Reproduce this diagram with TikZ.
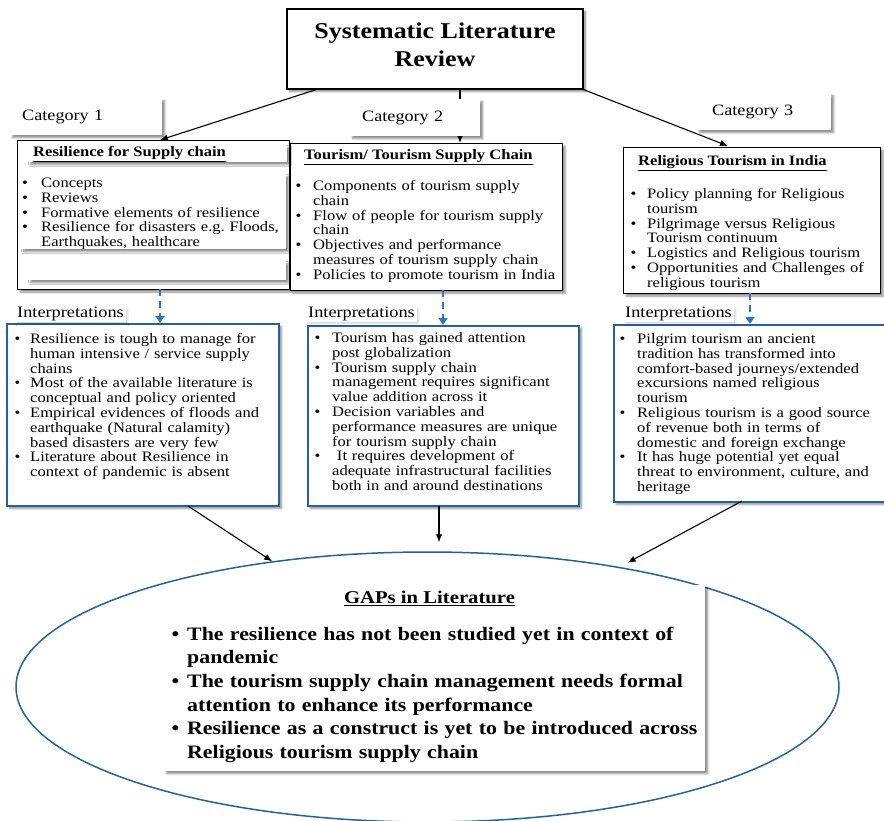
\documentclass[tikz,border=0pt]{standalone}
\usepackage{fontspec}
\setmainfont{Liberation Serif}[FakeStretch=1.15]
\usetikzlibrary{shapes.geometric,shadows.blur,arrows.meta,calc}

\definecolor{frameblue}{RGB}{37,96,160}
\definecolor{dashblue}{RGB}{46,117,198}

% hanging bullet item; the indent is set per list, \nl breaks inside an item
\newlength\bulletindent
\newcommand\bitem[1]{\par\hangindent=\bulletindent\hangafter=1\noindent\makebox[\bulletindent][l]{\textbullet}#1}
\newcommand\nl{\newline}

\tikzset{
  boxshadow/.style={blur shadow={shadow xshift=2.5pt, shadow yshift=-2.5pt, shadow blur radius=2pt, shadow blur steps=5, shadow opacity=45}},
  framebox/.style={draw=black, line width=1.1pt, fill=white, boxshadow, anchor=north west, inner sep=0pt},
  paperbox/.style={fill=white, boxshadow, anchor=north west, inner sep=0pt},
  catlabel/.style={fill=white, boxshadow, anchor=north west, inner xsep=12pt, inner ysep=0pt, align=left, font=\fontsize{15.8}{18}\selectfont},
  interplabel/.style={fill=white, blur shadow={shadow xshift=2pt, shadow yshift=-2pt, shadow blur steps=4, shadow opacity=15}, anchor=west, inner xsep=2pt, inner ysep=1pt, font=\fontsize{15.9}{18}\selectfont},
  interpbox/.style={draw=frameblue, line width=1.8pt, fill=white, boxshadow, anchor=north west, inner sep=0pt},
  listtext/.style 2 args={anchor=north west, inner sep=0pt, text width=#1, font=\fontsize{14.4}{14.8}\selectfont, execute at begin node={\raggedright\frenchspacing\setlength\bulletindent{#2}}},
  headtext/.style={anchor=west, inner sep=0pt, font=\bfseries\fontsize{14.4}{16}\selectfont},
  flow/.style={-{Latex[length=8pt,width=6.5pt]}, line width=1.1pt, black},
  dashflow/.style={-{Triangle[length=7pt,width=9pt]}, line width=2.4pt, dashblue, dash pattern=on 7pt off 5pt},
}

\begin{document}
\begin{tikzpicture}[x=1pt, y=-1pt]
\useasboundingbox (0,0) rectangle (884,820);

% ---------- root ----------
\node[framebox, anchor=center, line width=1.3pt, minimum width=296pt, minimum height=80pt] (title) at (435,49) {};
\node[align=center, inner sep=0pt, font=\bfseries\fontsize{22.6}{28}\selectfont] (titletext) at (435,44.5) {Systematic Literature\\Review};

% ---------- three category boxes ----------
\node[framebox, minimum width=272pt, minimum height=149pt] (res) at (17,140) {};
\node[framebox, minimum width=272pt, minimum height=147pt] (tour) at (290,143) {};
\node[framebox, minimum width=257pt, minimum height=146pt] (rel) at (623,147) {};

% arrows from the root to the categories
\coordinate (t1) at (318,89);
\coordinate (t2) at (460,89);
\coordinate (c1) at (160,140);
\coordinate (c2) at (460,143);
\coordinate (c3) at (728,146);
\draw[flow] (t1) -- (c1);
\draw[flow] (t2) -- (c2);
\draw[flow] (title.south east) -- (c3);

% category labels
\node[catlabel, minimum width=152pt, minimum height=37pt, text width=128pt] (cat1) at (10,98) {Category 1};
\node[catlabel, minimum width=130pt, minimum height=37pt, text width=106pt] (cat2) at (350,99) {Category 2};
\node[catlabel, inner xsep=15pt, minimum width=134pt, minimum height=37pt, text width=104pt] (cat3) at (697,93) {Category 3};

% resilience box contents
\node[paperbox, minimum width=259pt, minimum height=17pt] (reshead) at (28,145) {};
\node[paperbox, minimum width=265pt, minimum height=75pt] (reslistbg) at (21,174) {};
\node[paperbox, minimum width=258pt, minimum height=19pt] (resblank) at (28,261) {};
\node[headtext] (resheadtxt) at (33,154) {\underline{Resilience for Supply chain}};
\node[listtext={320pt}{19pt}] (reslist) at (22,172.5) {%
\bitem{Concepts}
\bitem{Reviews}
\bitem{Formative elements of resilience}
\bitem{Resilience for disasters e.g. Floods,\nl Earthquakes, healthcare}\par};

% tourism box contents
\node[headtext] (tourheadtxt) at (304,157) {\underline{Tourism/ Tourism Supply Chain}};
\node[listtext={320pt}{17.5pt}] (tourlist) at (295.5,175.5) {%
\bitem{Components of tourism supply\nl chain}
\bitem{Flow of people for tourism supply\nl chain}
\bitem{Objectives and performance\nl measures of tourism supply chain}
\bitem{Policies to promote tourism in India}\par};

% religious tourism box contents
\node[headtext] (relheadtxt) at (638,163) {\underline{Religious Tourism in India}};
\node[listtext={320pt}{16.5pt}] (rellist) at (630.5,183.5) {%
\bitem{Policy planning for Religious\nl tourism}
\bitem{Pilgrimage versus Religious\nl Tourism continuum}
\bitem{Logistics and Religious tourism}
\bitem{Opportunities and Challenges of\nl religious tourism}\par};

% ---------- interpretation boxes ----------
\node[interpbox, minimum width=272pt, minimum height=182pt] (int1) at (6,323) {};
\node[interpbox, minimum width=271pt, minimum height=180pt] (int2) at (307,325) {};
\node[interpbox, minimum width=285pt, minimum height=177pt] (int3) at (613,324) {};

\node[interplabel] (lab1) at (15,314) {Interpretations};
\node[interplabel] (lab2) at (306,314) {Interpretations};
\node[interplabel] (lab3) at (623,314) {Interpretations};

% dashed links from categories to interpretations
\coordinate (d1) at (160,289);
\coordinate (d2) at (443,290);
\coordinate (d3) at (750,293);
\draw[dashflow] (d1) -- (d1 |- int1.north);
\draw[dashflow] (d2) -- (d2 |- int2.north);
\draw[dashflow] (d3) -- (d3 |- int3.north);

\node[listtext={320pt}{15.5pt}] (int1list) at (14.5,328.5) {%
\bitem{Resilience is tough to manage for\nl human intensive / service supply\nl chains}
\bitem{Most of the available literature is\nl conceptual and policy oriented}
\bitem{Empirical evidences of floods and\nl earthquake (Natural calamity)\nl based disasters are very few}
\bitem{Literature about Resilience in\nl context of pandemic is absent}\par};

\node[listtext={320pt}{17.5pt}] (int2list) at (314.5,327.5) {%
\bitem{Tourism has gained attention\nl post globalization}
\bitem{Tourism supply chain\nl management requires significant\nl value addition across it}
\bitem{Decision variables and\nl performance measures are unique\nl for tourism supply chain}
\bitem{\ It requires development of\nl adequate infrastructural facilities\nl both in and around destinations}\par};

\node[listtext={320pt}{17.5pt}] (int3list) at (619.5,328.5) {%
\bitem{Pilgrim tourism an ancient\nl tradition has transformed into\nl comfort-based journeys/extended\nl excursions named religious\nl tourism}
\bitem{Religious tourism is a good source\nl of revenue both in terms of\nl domestic and foreign exchange}
\bitem{It has huge potential yet equal\nl threat to environment, culture, and\nl heritage}\par};

% ---------- gaps ----------
\node[ellipse, draw=frameblue, line width=1.5pt, minimum width=823pt, minimum height=270pt, inner sep=0pt] (gapell) at (427.5,687) {};
\node[paperbox, minimum width=541pt, minimum height=186pt] (gapbox) at (164,585) {};
\node[font=\bfseries\fontsize{18}{20}\selectfont, inner sep=0pt] (gaphead) at (429.5,598) {\underline{GAPs in Literature}};
\node[listtext={600pt}{15.5pt}, font=\bfseries\fontsize{19}{23.6}\selectfont] (gaplist) at (171.5,616.5) {%
\bitem{The resilience has not been studied yet in context of\nl pandemic}
\bitem{The tourism supply chain management needs formal\nl attention to enhance its performance}
\bitem{Resilience as a construct is yet to be introduced across\nl Religious tourism supply chain}\par};

% arrows from interpretations to the gaps
\coordinate (g1) at (188,506);
\coordinate (g2) at (439,506);
\coordinate (g3) at (742,501);
\draw[flow] (g1) -- (gapell.141);
\draw[flow, shorten >=9pt] (g2) -- (g2 |- gapell.north);
\draw[flow, shorten >=9pt] (g3) -- (gapell.32);
\end{tikzpicture}
\end{document}
